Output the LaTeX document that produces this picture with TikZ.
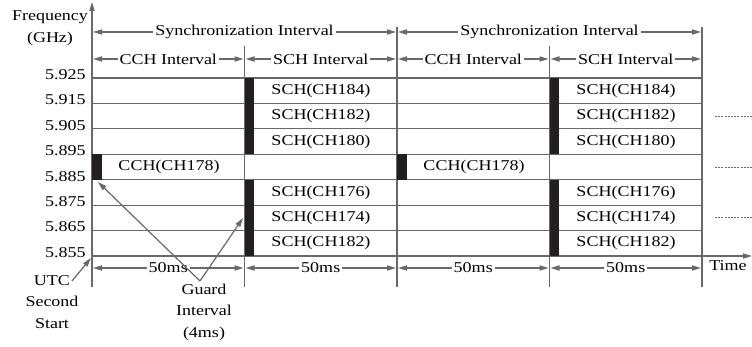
\documentclass[tikz,border=0pt]{standalone}
\usepackage{fontspec}
\setmainfont{Liberation Serif}[FakeStretch=1.2]
\usetikzlibrary{arrows.meta}
\definecolor{linegray}{RGB}{105,105,105}
\definecolor{guardblk}{RGB}{35,31,32}

\begin{document}
\begin{tikzpicture}[x=0.5pt,y=-0.5pt,
  font=\fontsize{7.5}{10.75}\selectfont,
  gline/.style={linegray,line width=0.6pt},
  tip/.style={gline,-{Triangle[length=4.5pt,width=2.6pt]}},
  dim/.style={gline,{Triangle[length=4.5pt,width=2.6pt]}-{Triangle[length=4.5pt,width=2.6pt]},shorten <=0.5pt,shorten >=0.5pt},
  lbl/.style={fill=white,text=black,inner sep=1pt},
  guard/.style={fill=guardblk}]

\useasboundingbox (0,0) rectangle (752,347);

% axes
\coordinate (ybot) at (92,287);
\coordinate (ytop) at (92,2);
\coordinate (xbeg) at (702,256);
\coordinate (xend) at (752,256);
\draw[tip] (ybot) -- (ytop);
\draw[tip] (xbeg) -- (xend);
\node[align=center] (freq) at (50,28) {Frequency\\(GHz)};
\node (time) at (728,266) {Time};

% channel rows and interval borders
\foreach \i in {0,...,7}
  \draw[gline] (92,78+25.43*\i) -- (702,78+25.43*\i);
\foreach \x/\t in {244.5/46,397/27,549.5/46,702/27}
  \draw[gline] (\x,\t) -- (\x,287);

% guard intervals
\foreach \x in {244.5,549.5} {
  \fill[guard] (\x,78) rectangle +(9.5,76.3);
  \fill[guard] (\x,179.7) rectangle +(9.5,76.3);
}
\foreach \x in {92,397}
  \fill[guard] (\x,154.3) rectangle +(9.5,25.4);

% frequency ticks
\foreach \f [count=\i from 0] in {5.925,5.915,5.905,5.895,5.885,5.875,5.865,5.855}
  \node[anchor=east,inner sep=0pt] (f\i) at (86,74.5+25.43*\i) {\f};

% channels
\foreach \x [count=\k] in {321,626}
  \foreach \i/\c in {0/184,1/182,2/180,4/176,5/174,6/182}
    \node (sch\k\i) at (\x,90.7+25.43*\i) {SCH(CH\c)};
\node (cch1) at (169,167) {CCH(CH178)};
\node (cch2) at (474,167) {CCH(CH178)};

% dashed continuation
\foreach \i in {1,3,5}
  \draw[gline,line width=0.4pt,dash pattern=on 1pt off 0.6pt] (715,90.7+25.43*\i) -- (752,90.7+25.43*\i);

% interval dimensions
\foreach \x [count=\k from 0] in {92,244.5,397,549.5,702} {
  \coordinate (s\k) at (\x,32);
  \coordinate (c\k) at (\x,59);
  \coordinate (m\k) at (\x,268);
}
\draw[dim] (s0) -- (s2) node[midway,lbl] {Synchronization Interval};
\draw[dim] (s2) -- (s4) node[midway,lbl] {Synchronization Interval};
\draw[dim] (c0) -- (c1) node[midway,lbl] {CCH Interval};
\draw[dim] (c1) -- (c2) node[midway,lbl] {SCH Interval};
\draw[dim] (c2) -- (c3) node[midway,lbl] {CCH Interval};
\draw[dim] (c3) -- (c4) node[midway,lbl] {SCH Interval};
\draw[dim] (m0) -- (m1) node[midway,lbl] {50ms};
\draw[dim] (m1) -- (m2) node[midway,lbl] {50ms};
\draw[dim] (m2) -- (m3) node[midway,lbl] {50ms};
\draw[dim] (m3) -- (m4) node[midway,lbl] {50ms};

% annotations
\node[align=center] (utc) at (52,302) {UTC\\Second\\Start};
\coordinate (utcend) at (72,281);
\coordinate (orig) at (91,258);
\draw[tip] (utcend) -- (orig);

\node[align=center] (gi) at (204,312) {Guard\\Interval\\(4ms)};
\coordinate (gtop) at (200,281);
\coordinate (g1) at (98,182);
\coordinate (g2) at (243,218);
\draw[tip] (gtop) -- (g1);
\draw[tip] (gtop) -- (g2);

\end{tikzpicture}
\end{document}
